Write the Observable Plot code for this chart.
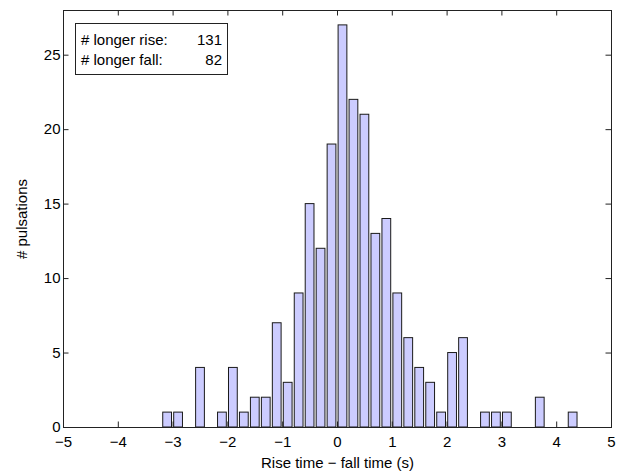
<!DOCTYPE html>
<html>
<head>
<meta charset="utf-8">
<script src="https://cdn.jsdelivr.net/npm/d3@7"></script>
<script src="https://cdn.jsdelivr.net/npm/@observablehq/plot@0.6"></script>
<style>
  html, body { margin: 0; padding: 0; background: #fff; }
  #wrap { position: relative; width: 626px; height: 474px; }
  #legend {
    position: absolute; left: 75px; top: 23px; width: 153px; height: 52px;
    border: 1px solid #222; background: #fff; box-sizing: border-box;
    font: 15px "Liberation Sans", Arial, sans-serif; color: #000;
    padding: 6px 5px 0 5px;
  }
  #legend .row { display: flex; justify-content: space-between; line-height: 20px; }
</style>
</head>
<body>
<div id="wrap"></div>
<script>
// Histogram bin centres (s) and counts
const binCenters = [-3.1, -2.9, -2.5, -2.1, -1.9, -1.7, -1.5, -1.3, -1.1, -0.9, -0.7, -0.5, -0.3, -0.1,
                     0.1, 0.3, 0.5, 0.7, 0.9, 1.1, 1.3, 1.5, 1.7, 1.9, 2.1, 2.3, 2.7, 2.9, 3.1, 3.7, 4.3];
const binCounts  = [1, 1, 4, 1, 4, 1, 2, 2, 7, 3, 9, 15, 12, 19,
                    27, 22, 21, 13, 14, 9, 6, 4, 3, 1, 5, 6, 1, 1, 1, 2, 1];
const xTicks = [-5, -4, -3, -2, -1, 0, 1, 2, 3, 4, 5];
const yTicks = [0, 5, 10, 15, 20, 25];
const legendLabels = ["# longer rise:", "# longer fall:"];
const legendCounts = [131, 82];
const xLabel = "Rise time \u2212 fall time (s)";
const yLabel = "# pulsations";

const binWidth = 0.2;
const barFraction = 0.8;
const half = binWidth * barFraction / 2;

const bars = binCenters.map((c, i) => ({center: c, count: binCounts[i]}));

const W = 626, H = 474;
const mL = 63, mR = 15, mT = 10, mB = 47;
const innerW = W - mL - mR, innerH = H - mT - mB;
const tickLen = 5.5;
const fmt = d => String(d).replace("-", "\u2212");

const chart = Plot.plot({
  width: W, height: H,
  marginLeft: mL, marginRight: mR, marginTop: mT, marginBottom: mB,
  style: {fontFamily: '"Liberation Sans", Arial, sans-serif', fontSize: "15px", color: "#000", background: "#fff"},
  x: {domain: [-5, 5]},
  y: {domain: [0, 28]},
  marks: [
    Plot.rectY(bars, {x1: d => d.center - half, x2: d => d.center + half, y: "count",
      fill: "#ccccff", stroke: "#1a1a1a", strokeWidth: 1}),
    Plot.tickX(xTicks, {x: d => d, insetTop: innerH - tickLen, stroke: "#222"}),
    Plot.tickX(xTicks, {x: d => d, insetBottom: innerH - tickLen, stroke: "#222"}),
    Plot.tickY(yTicks, {y: d => d, insetRight: innerW - tickLen, stroke: "#222"}),
    Plot.tickY(yTicks, {y: d => d, insetLeft: innerW - tickLen, stroke: "#222"}),
    Plot.frame({stroke: "#222"}),
    Plot.axisX({ticks: xTicks, tickSize: 0, tickPadding: 9, tickFormat: fmt,
      label: xLabel, labelAnchor: "center", labelArrow: "none", labelOffset: 40}),
    Plot.axisY({ticks: yTicks, tickSize: 0, tickPadding: 3, tickFormat: fmt,
      label: yLabel, labelAnchor: "center", labelArrow: "none", labelOffset: 47})
  ]
});

const wrap = document.getElementById("wrap");
wrap.appendChild(chart);
const legend = document.createElement("div");
legend.id = "legend";
legendLabels.forEach((lab, i) => {
  const row = document.createElement("div");
  row.className = "row";
  const a = document.createElement("span"); a.textContent = lab;
  const b = document.createElement("span"); b.textContent = legendCounts[i];
  row.appendChild(a); row.appendChild(b);
  legend.appendChild(row);
});
wrap.appendChild(legend);
</script>
</body>
</html>
